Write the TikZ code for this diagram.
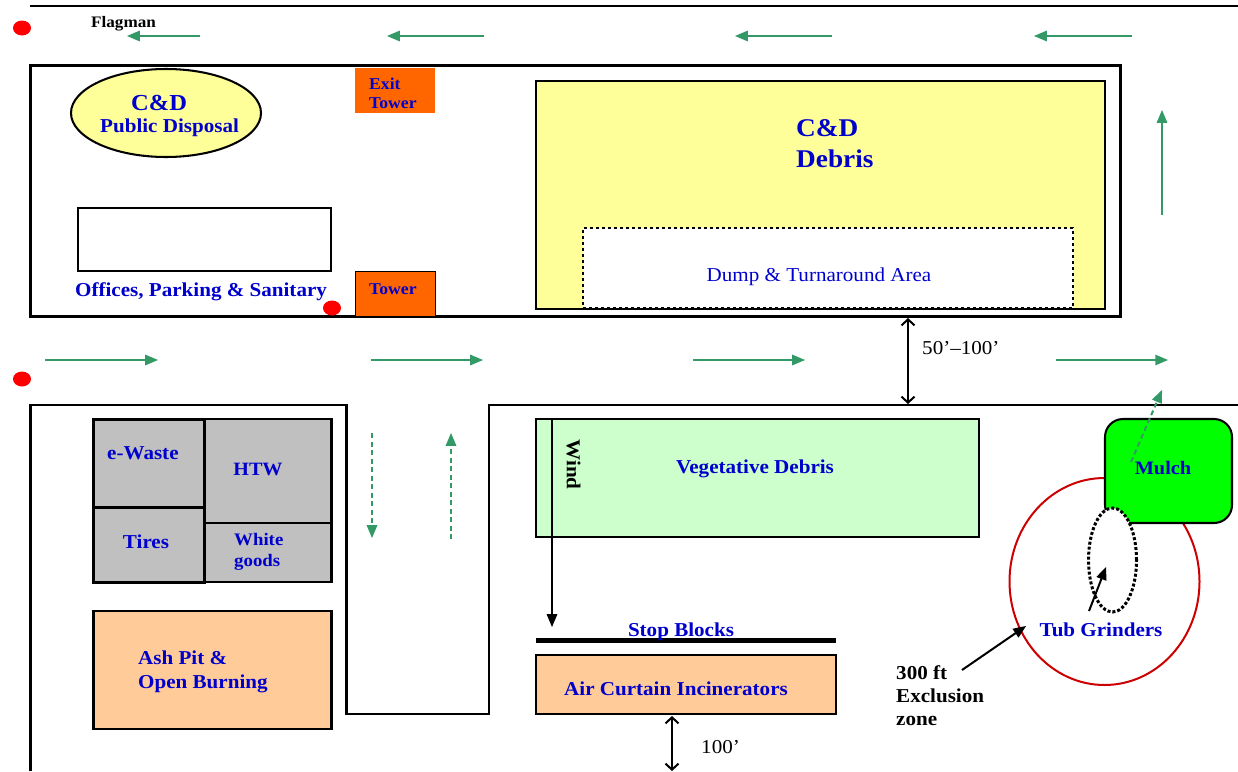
\documentclass[tikz,border=0pt]{standalone}
\usepackage{fontspec}
\setmainfont[FakeStretch=1.07]{Liberation Serif}
\usetikzlibrary{arrows,arrows.meta,shapes}
\definecolor{lightyellow}{RGB}{255,255,153}
\definecolor{darkorange}{RGB}{255,102,0}
\definecolor{peach}{RGB}{255,204,153}
\definecolor{palegreen}{RGB}{204,255,204}
\definecolor{wastegray}{RGB}{192,192,192}
\definecolor{flowgreen}{RGB}{51,153,102}
\definecolor{textblue}{RGB}{0,0,204}
\definecolor{circlered}{RGB}{204,0,0}
\begin{document}
\begin{tikzpicture}[x=1pt,y=-1pt,
    box/.style={rectangle,draw=black,line width=2.05pt,inner sep=0pt,outer sep=0pt},
    lab/.style={text=textblue,font=\bfseries\fontsize{19.7}{24}\selectfont,align=left,inner sep=0pt,yshift=-1.5pt},
    blk/.style={font=\bfseries\fontsize{19.7}{23}\selectfont,align=left,inner sep=0pt,yshift=-1.5pt},
    thin19/.style={font=\fontsize{19.7}{20}\selectfont,inner sep=0pt,yshift=-1.5pt},
    flow/.style={draw=flowgreen,line width=2pt,-triangle 45},
    dashflow/.style={flow,dash pattern=on 5pt off 3.5pt},
    dim/.style={draw=black,line width=2pt,<->,>={Straight Barb[length=6pt,width=13pt,line width=2pt]}},
    pointer/.style={draw=black,line width=2pt,-triangle 45},
    flag/.style={ellipse,fill=red,minimum width=18pt,minimum height=15pt,inner sep=0pt}]
    \useasboundingbox (0,0) rectangle (1238,771);

    % Site outlines
    \node[box,minimum width=1090pt,minimum height=251pt] (site) at (575.5,191) {};
    \coordinate (topa) at (30,6);
    \coordinate (topb) at (1238,6);
    \draw[line width=2.05pt] (topa) -- (topb);
    \draw[line width=2.05pt] (30.5,771) -- (30.5,405) -- (346.5,405) -- (346.5,714) -- (489,714) -- (489,405) -- (1238,405);

    % Upper yard
    \node[box,ellipse,fill=lightyellow,minimum width=190pt,minimum height=88pt] (public) at (166,113) {};
    \node[fill=darkorange,minimum width=80pt,minimum height=45pt,inner sep=0pt] (exit) at (395,90.5) {};
    \node[box,line width=0.8pt,fill=darkorange,minimum width=80pt,minimum height=45pt] (tower) at (395,293.5) {};
    \node[box,minimum width=253pt,minimum height=63pt] (offices) at (204.5,239.5) {};
    \node[box,fill=lightyellow,minimum width=569pt,minimum height=228pt] (debris) at (820.5,195) {};
    \node[box,fill=white,dashed,minimum width=490pt,minimum height=80pt] (dump) at (828,268) {};

    % Lower yard
    \node[box,fill=wastegray,minimum width=111pt,minimum height=88pt] (ewaste) at (149,463.5) {};
    \node[box,fill=wastegray,minimum width=111pt,minimum height=75pt] (tires) at (149,545) {};
    \node[box,fill=wastegray,minimum width=127pt,minimum height=104pt] (htw) at (268,471) {};
    \node[box,fill=wastegray,minimum width=127pt,minimum height=59pt] (white) at (268,552.5) {};
    \node[box,fill=peach,minimum width=238pt,minimum height=118pt] (ash) at (212.5,670) {};
    \node[box,fill=palegreen,minimum width=443pt,minimum height=118pt] (veg) at (757.5,478) {};
    \node[box,fill=peach,minimum width=300pt,minimum height=59pt] (air) at (686,684.5) {};
    \node[fill=black,minimum width=300pt,minimum height=5pt,inner sep=0pt] (stop) at (686,640) {};

    % Grinding area
    \node[ellipse,draw=circlered,line width=2pt,minimum width=190pt,minimum height=207pt,inner sep=0pt] (zone) at (1104.5,581.5) {};
    \node[box,rounded corners=18pt,fill=green,minimum width=127pt,minimum height=104pt] (mulch) at (1168.5,471) {};
    \node[ellipse,draw=black,fill=white,line width=3pt,dotted,minimum width=48pt,minimum height=104pt,inner sep=0pt] (tub) at (1112.5,560) {};

    % Flagmen
    \node[flag] (flaga) at (22,28) {};
    \node[flag] (flagb) at (332,308) {};
    \node[flag] (flagc) at (22,379) {};

    % Traffic arrows
    \foreach \n/\xa/\ya/\xb/\yb in {a/200/36/127/36,b/484/36/387/36,c/832/36/735/36,d/1132/36/1034/36,
        e/45/360/158/360,f/371/360/483/360,g/693/360/805/360,h/1056/360/1168/360,i/1162/215/1162/110}{
        \coordinate (flow\n a) at (\xa,\ya);
        \coordinate (flow\n b) at (\xb,\yb);
        \draw[flow] (flow\n a) -- (flow\n b);
    }
    \foreach \n/\xa/\ya/\xb/\yb in {a/372/433/372/538,b/451/539/451/433,c/1131/462/1162/390}{
        \coordinate (dash\n a) at (\xa,\ya);
        \coordinate (dash\n b) at (\xb,\yb);
        \draw[dashflow] (dash\n a) -- (dash\n b);
    }

    % Distances and pointers
    \coordinate (gapa) at (908,318);
    \coordinate (gapb) at (908,404);
    \draw[dim] (gapa) -- (gapb);
    \coordinate (reara) at (672,716);
    \coordinate (rearb) at (672,771);
    \draw[dim] (reara) -- (rearb);
    \coordinate (winda) at (552,419);
    \coordinate (windb) at (552,627);
    \draw[pointer] (winda) -- (windb);
    \coordinate (tuba) at (1089,611);
    \coordinate (tubb) at (1106,567);
    \draw[pointer] (tuba) -- (tubb);
    \coordinate (zonea) at (962,670);
    \coordinate (zoneb) at (1026,626);
    \draw[pointer] (zonea) -- (zoneb);

    % Labels
    \node[blk,font=\bfseries\fontsize{16}{18}\selectfont,anchor=west] (flagman) at (91,22) {Flagman};
    \node[lab,font=\bfseries\fontsize{22.9}{24}\selectfont,anchor=west] (cdtxt) at (131,101) {C\&D};
    \node[lab,anchor=west] (pubtxt) at (100,126) {Public Disposal};
    \node[lab,font=\bfseries\fontsize{16.5}{19}\selectfont,anchor=west] (exittxt) at (369,92) {Exit\\Tower};
    \node[lab,font=\bfseries\fontsize{16.5}{19}\selectfont,anchor=west] (towertxt) at (369,288) {Tower};
    \node[lab,anchor=west] (offtxt) at (75,290) {Offices, Parking \& Sanitary};
    \node[lab,font=\bfseries\fontsize{25.5}{31}\selectfont,anchor=west] (debtxt) at (796,142.5) {C\&D\\Debris};
    \node[thin19,text=textblue] (dumptxt) at (819,275) {Dump \& Turnaround Area};
    \node[lab,anchor=west] (ewtxt) at (107,452) {e-Waste};
    \node[lab,font=\bfseries\fontsize{18.8}{22}\selectfont] (htwtxt) at (258,468) {HTW};
    \node[lab] (tirestxt) at (146,540) {Tires};
    \node[lab,font=\bfseries\fontsize{17.6}{21}\selectfont,anchor=west] (whitetxt) at (234,550) {White\\goods};
    \node[lab,anchor=west] (ashtxt) at (138,670) {Ash Pit \&\\Open Burning};
    \node[lab] (vegtxt) at (755,467) {Vegetative Debris};
    \node[blk,rotate=-90,yshift=1.5pt] (windtxt) at (572,463) {Wind};
    \node[lab] (stoptxt) at (681,630) {Stop Blocks};
    \node[lab] (airtxt) at (676,687) {Air Curtain Incinerators};
    \node[lab,font=\bfseries\fontsize{19}{22}\selectfont] (mulchtxt) at (1163,467) {Mulch};
    \node[lab] (tubtxt) at (1101,628) {Tub Grinders};
    \node[blk,anchor=west] (excltxt) at (896,694) {300 ft\\Exclusion\\zone};
    \node[thin19,anchor=west] (gaptxt) at (922,347) {50’--100’};
    \node[thin19,anchor=west] (reartxt) at (701,746) {100’};
\end{tikzpicture}
\end{document}
